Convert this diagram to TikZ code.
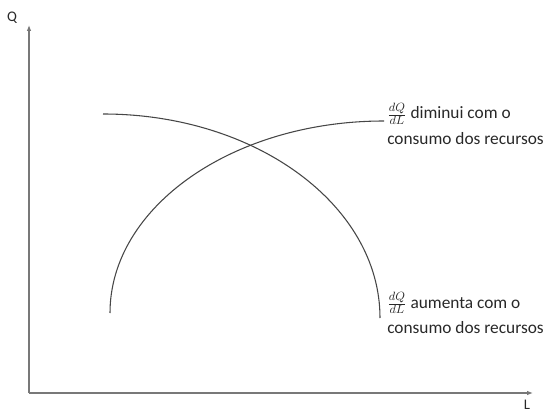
\documentclass[tikz,border=0pt]{standalone}
\usepackage{fontspec}
\setmainfont{Carlito}
\usetikzlibrary{arrows.meta,positioning}
\definecolor{axisgray}{RGB}{120,120,120}
\definecolor{curvegray}{RGB}{70,70,70}
\definecolor{textgray}{RGB}{40,40,40}

\begin{document}
\begin{tikzpicture}[
    x=0.75pt, y=0.75pt,
    axis/.style={draw=axisgray, line width=1.1pt, -{Latex[length=4.5pt,width=3.5pt]}},
    curve/.style={draw=curvegray, line width=0.8pt},
    note/.style={align=left, anchor=west, inner sep=0pt, text=textgray,
                 font=\fontsize{13}{19}\selectfont},
    axlabel/.style={inner sep=0pt, text=textgray, font=\fontsize{11}{13}\selectfont}
]

\useasboundingbox (0,0) rectangle (549,414);

\coordinate (origin) at (29,21);
\coordinate (ytop) at (29,389);
\coordinate (xend) at (533,21);

% axes
\draw[axis] (origin) -- (ytop);
\draw[axis] (origin) -- (xend);
\node[axlabel] (qlabel) at (12,396) {Q};
\node[axlabel, anchor=south] (llabel) at (527,4) {L};

% the two curves
\draw[curve] (103,300) arc[start angle=90, end angle=0, x radius=277, y radius=204];
\draw[curve] (110,101) arc[start angle=180, end angle=90, x radius=274, y radius=192];

\node[note] (dimin) at (387,290)
    {$\frac{dQ}{dL}$ diminui com o\\consumo dos recursos};
\node[note] (aument) at (387,101)
    {$\frac{dQ}{dL}$ aumenta com o\\consumo dos recursos};

\end{tikzpicture}
\end{document}
